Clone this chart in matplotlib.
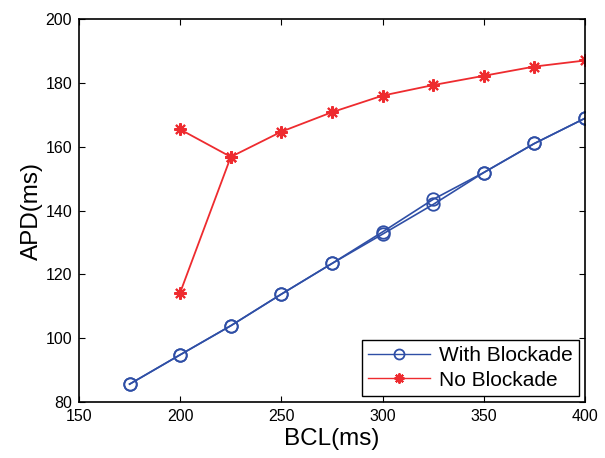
import matplotlib
matplotlib.use("Agg")
import matplotlib.pyplot as plt

plt.rcParams['font.family'] = ['Liberation Sans', 'DejaVu Sans']

# with blockade: two branches (alternans near 300-325 ms)
bcl_with = [175, 200, 225, 250, 275, 300, 325, 350, 375, 400]
apd_with_a = [85.6, 94.8, 103.9, 113.8, 123.4, 133.3, 143.5, 151.9, 161.0, 168.9]
apd_with_b = [85.6, 94.8, 103.9, 113.8, 123.4, 132.6, 141.9, 151.9, 161.0, 168.9]

# no blockade: two branches (split at 200 ms)
bcl_no_a = [200, 225, 250, 275, 300, 325, 350, 375, 400]
apd_no_a = [165.4, 156.8, 164.7, 170.8, 176.0, 179.3, 182.2, 185.1, 187.0]
bcl_no_b = [200, 225]
apd_no_b = [114.3, 156.8]

blue = '#2f4fa6'
red = '#ee2b2f'

fig = plt.figure(figsize=(6.05, 4.58), dpi=100)
ax = fig.add_axes([79/605, 1 - 402/458, (585-79)/605, (402-19)/458])

ax.plot(bcl_with, apd_with_a, '-', color=blue, marker='o', markersize=9,
        markerfacecolor='none', markeredgewidth=1.3, linewidth=1.2, label='With Blockade')
ax.plot(bcl_with, apd_with_b, '-', color=blue, marker='o', markersize=9,
        markerfacecolor='none', markeredgewidth=1.3, linewidth=1.2)
ax.plot(bcl_no_a, apd_no_a, '-', color=red, marker=(8, 2, 0), markersize=9,
        markeredgewidth=1.5, linewidth=1.3, label='No Blockade')
ax.plot(bcl_no_b, apd_no_b, '-', color=red, marker=(8, 2, 0), markersize=9,
        markeredgewidth=1.5, linewidth=1.3)

ax.set_xlim(150, 400)
ax.set_ylim(80, 200)
ax.set_xticks([150, 200, 250, 300, 350, 400])
ax.set_yticks([80, 100, 120, 140, 160, 180, 200])
ax.tick_params(direction='in', length=4, labelsize=11.5, pad=5,
               top=True, right=True)
for s in ax.spines.values():
    s.set_linewidth(1.2)

ax.set_xlabel('BCL(ms)', fontsize=17.5, labelpad=3)
ax.set_ylabel('APD(ms)', fontsize=17.5, labelpad=2)

leg = ax.legend(loc='lower right', fontsize=15, fancybox=False, edgecolor='black',
                framealpha=1, handlelength=3.0, handletextpad=0.4,
                borderaxespad=0.3, borderpad=0.3, labelspacing=0.25,
                markerscale=0.8)
leg.get_frame().set_linewidth(1.0)
for line in leg.get_lines():
    line.set_linewidth(1.0)

fig.savefig('out.png', dpi=100)
